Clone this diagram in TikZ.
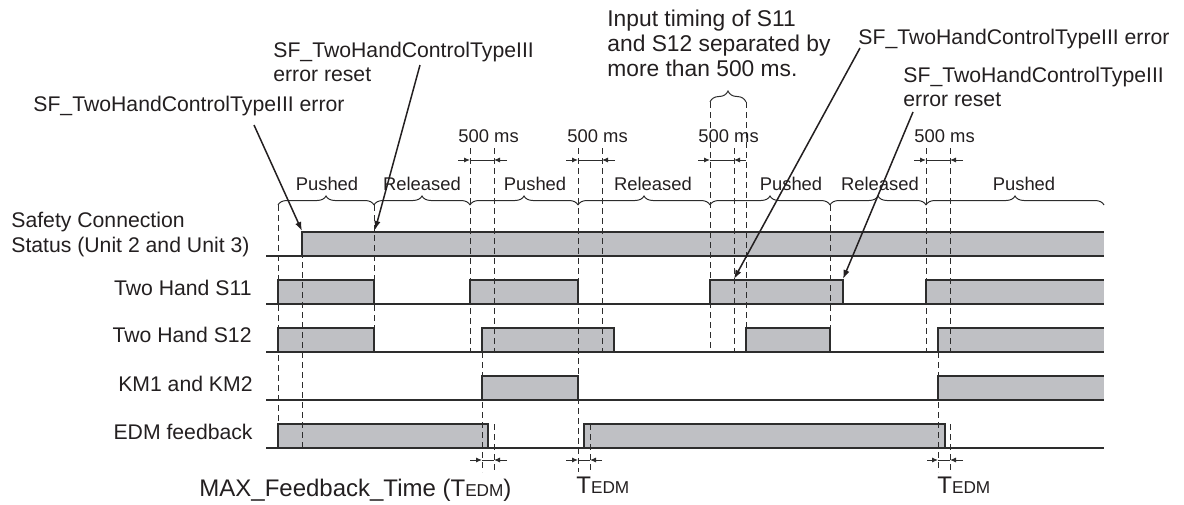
\documentclass[tikz,border=0pt]{standalone}
\usepackage{fontspec}
\setmainfont{Liberation Sans}
\usetikzlibrary{
    arrows.meta,
    decorations.pathreplacing
}
\definecolor{colorFill}{RGB}{191, 192, 196}
\definecolor{colorLine}{RGB}{45, 45, 45}
\definecolor{colorText}{RGB}{35, 31, 32}
\tikzset{
    signalBox/.style={
        draw=colorLine, fill=colorFill, line width=0.55pt
    },
    signalEdge/.style={
        draw=colorLine, line width=0.55pt
    },
    baseLine/.style={
        draw=colorLine, line width=0.55pt
    },
    guideLine/.style={
        draw=colorLine, line width=0.5pt, dash pattern=on 3pt off 2pt
    },
    phaseBrace/.style={
        draw=colorLine, line width=0.5pt,
        decorate, decoration={brace, amplitude=4.5pt}
    },
    dimLine/.style={
        draw=colorLine, line width=0.5pt
    },
    dimArrow/.style={
        -{Latex[length=3pt,width=2.6pt]},
        line width=0.5pt, draw=colorLine
    },
    noteArrow/.style={
        -{Latex[length=4.5pt,width=3.2pt]},
        line width=0.75pt, draw=colorText
    },
    rowLabel/.style={
        inner sep=0pt, align=left,
        font=\fontsize{10.6}{12.5}\selectfont, text=colorText
    },
    noteText/.style={
        inner sep=0pt, align=left,
        font=\fontsize{10.6}{12}\selectfont, text=colorText
    },
    phaseLabel/.style={
        inner sep=0pt, font=\fontsize{9.2}{11}\selectfont, text=colorText
    },
    timeLabel/.style={
        inner sep=0pt, font=\fontsize{12}{14}\selectfont, text=colorText
    },
}

\begin{document}
\begin{tikzpicture}[x=0.5pt, y=-0.5pt]

    \useasboundingbox (0,0) rectangle (1184,504);

    % ----------------------------------------------------------
    % ETIQUETAS DE FILAS (x en px, y hacia abajo)
    % varias líneas: base = línea de base de la última línea
    % ----------------------------------------------------------
    \node[rowLabel, anchor=base west] at (11,252) (labSafety)
        {Safety Connection\\Status (Unit 2 and Unit 3)};
    \node[rowLabel, anchor=base east] at (252,295) (labS11) {Two Hand S11};
    \node[rowLabel, anchor=base east] at (252,342) (labS12) {Two Hand S12};
    \node[rowLabel, anchor=base east] at (253,391) (labKM)  {KM1 and KM2};
    \node[rowLabel, anchor=base east] at (253,439) (labEDM) {EDM feedback};

    % ----------------------------------------------------------
    % SEÑALES
    % ----------------------------------------------------------
    % Safety connection (abierta a la derecha)
    \fill[colorFill] (302,232) rectangle (1104,256);
    \draw[signalEdge, line width=0.9pt] (302,256) |- (1104,232);
    \draw[baseLine, line width=0.9pt] (266,256) -- (1104,256);

    % Two Hand S11
    \draw[signalBox] (278,304) |- (374,280) -- (374,304);
    \draw[signalBox] (470,304) |- (578,280) -- (578,304);
    \draw[signalBox] (710,304) |- (843,280) -- (843,304);
    \fill[colorFill] (926,280) rectangle (1104,304);
    \draw[signalEdge] (926,304) |- (1104,280);
    \draw[baseLine] (266,304) -- (1104,304);

    % Two Hand S12
    \draw[signalBox] (278,352) |- (374,328) -- (374,352);
    \draw[signalBox] (482,352) |- (614,328) -- (614,352);
    \draw[signalBox] (746,352) |- (830,328) -- (830,352);
    \fill[colorFill] (938,328) rectangle (1104,352);
    \draw[signalEdge] (938,352) |- (1104,328);
    \draw[baseLine] (266,352) -- (1104,352);

    % KM1 and KM2
    \draw[signalBox] (482,400) |- (578,376) -- (578,400);
    \fill[colorFill] (938,376) rectangle (1104,400);
    \draw[signalEdge] (938,400) |- (1104,376);
    \draw[baseLine] (266,400) -- (1104,400);

    % EDM feedback
    \draw[signalBox] (278,448) |- (488,424) -- (488,448);
    \draw[signalBox] (584,448) |- (945,424) -- (945,448);
    \draw[baseLine] (266,448) -- (1104,448);

    % ----------------------------------------------------------
    % LÍNEAS GUÍA PUNTEADAS
    % ----------------------------------------------------------
    \draw[guideLine] (278,205) -- (278,448);
    \draw[guideLine] (302,232) -- (302,448);
    \draw[guideLine] (374,205) -- (374,352);
    \draw[guideLine] (470,148) -- (470,352);
    \draw[guideLine] (494,148) -- (494,352);
    \draw[guideLine] (494,424) -- (494,472);
    \draw[guideLine] (482,352) -- (482,472);
    \draw[guideLine] (578,148) -- (578,472);
    \draw[guideLine] (602,148) -- (602,352);
    \draw[guideLine] (590,424) -- (590,472);
    \draw[guideLine] (710,102) -- (710,352);
    \draw[guideLine] (734,148) -- (734,352);
    \draw[guideLine] (746,102) -- (746,328);
    \draw[guideLine] (830,205) -- (830,328);
    \draw[guideLine] (926,148) -- (926,352);
    \draw[guideLine] (950,148) -- (950,352);
    \draw[guideLine] (950,424) -- (950,472);
    \draw[guideLine] (938,352) -- (938,472);

    % ----------------------------------------------------------
    % LLAVES Pushed / Released
    % ----------------------------------------------------------
    \draw[phaseBrace] (278,205) -- (374,205);
    \draw[phaseBrace] (374,205) -- (470,205);
    \draw[phaseBrace] (470,205) -- (578,205);
    \draw[phaseBrace] (578,205) -- (710,205);
    \draw[phaseBrace] (710,205) -- (830,205);
    \draw[phaseBrace] (830,205) -- (926,205);
    \draw[phaseBrace] (926,205) -- (1104,205);
    \draw[phaseBrace, decoration={brace, amplitude=5.5pt}] (710,102) -- (746,102);

    \node[phaseLabel, anchor=base] at (327,190)  (phase1) {Pushed};
    \node[phaseLabel, anchor=base] at (422,190)  (phase2) {Released};
    \node[phaseLabel, anchor=base] at (535,190)  (phase3) {Pushed};
    \node[phaseLabel, anchor=base] at (653,190)  (phase4) {Released};
    \node[phaseLabel, anchor=base] at (791,190)  (phase5) {Pushed};
    \node[phaseLabel, anchor=base] at (880,190)  (phase6) {Released};
    \node[phaseLabel, anchor=base] at (1024,190) (phase7) {Pushed};

    % ----------------------------------------------------------
    % COTAS 500 ms Y TEDM
    % ----------------------------------------------------------
    \node[phaseLabel, anchor=base west] at (458,142) (dim1) {500 ms};
    \node[phaseLabel, anchor=base west] at (567,142) (dim2) {500 ms};
    \node[phaseLabel, anchor=base west] at (698,142) (dim3) {500 ms};
    \node[phaseLabel, anchor=base west] at (914,142) (dim4) {500 ms};

    \draw[dimLine] (458,160) edge[dimArrow] (470,160) (507,160) edge[dimArrow] (494,160) (470,160) -- (494,160);
    \draw[dimLine] (566,160) edge[dimArrow] (578,160) (615,160) edge[dimArrow] (602,160) (578,160) -- (602,160);
    \draw[dimLine] (698,160) edge[dimArrow] (710,160) (746,160) edge[dimArrow] (734,160) (710,160) -- (734,160);
    \draw[dimLine] (914,160) edge[dimArrow] (926,160) (963,160) edge[dimArrow] (950,160) (926,160) -- (950,160);

    \draw[dimLine] (470,460) edge[dimArrow] (482,460) (507,460) edge[dimArrow] (494,460) (482,460) -- (494,460);
    \draw[dimLine] (566,460) edge[dimArrow] (578,460) (602,460) edge[dimArrow] (590,460) (578,460) -- (590,460);
    \draw[dimLine] (927,460) edge[dimArrow] (938,460) (963,460) edge[dimArrow] (950,460) (938,460) -- (950,460);

    \node[timeLabel, anchor=base west] at (199,496) (maxTime)
        {MAX\_Feedback\_Time (T{\fontsize{8.6}{10}\selectfont EDM})};
    \node[timeLabel, anchor=base west] at (576,493) (tEdm2)
        {T{\fontsize{8.6}{10}\selectfont EDM}};
    \node[timeLabel, anchor=base west] at (937,493) (tEdm3)
        {T{\fontsize{8.6}{10}\selectfont EDM}};

    % ----------------------------------------------------------
    % NOTAS SUPERIORES Y FLECHAS
    % ----------------------------------------------------------
    \coordinate (safetyOn) at (302,231);
    \coordinate (safetyReset) at (375,230);
    \coordinate (s11Error) at (734,279);
    \coordinate (s11Reset) at (843,279);

    \node[noteText, anchor=base west] at (33,111) (errLeft)
        {SF\_TwoHandControlTypeIII error};
    \node[noteText, anchor=base west] at (273,81) (resetLeft)
        {SF\_TwoHandControlTypeIII\\error reset};
    \node[noteText, anchor=base west, font=\fontsize{11.4}{12.5}\selectfont]
        at (607,76) (inputNote)
        {Input timing of S11\\and S12 separated by\\more than 500 ms.};
    \node[noteText, anchor=base west] at (858,44) (errRight)
        {SF\_TwoHandControlTypeIII error};
    \node[noteText, anchor=base west] at (903,106) (resetRight)
        {SF\_TwoHandControlTypeIII\\error reset};

    \draw[noteArrow] ([xshift=110.5pt,yshift=-7pt]errLeft.base west) -- (safetyOn);
    \draw[noteArrow] ([xshift=73.5pt,yshift=8pt]resetLeft.base west) -- (safetyReset);
    \draw[noteArrow] ([xshift=1pt,yshift=-2pt]errRight.base west) -- (s11Error);
    \draw[noteArrow] ([xshift=5pt,yshift=-3pt]resetRight.base west) -- (s11Reset);

\end{tikzpicture}
\end{document}
